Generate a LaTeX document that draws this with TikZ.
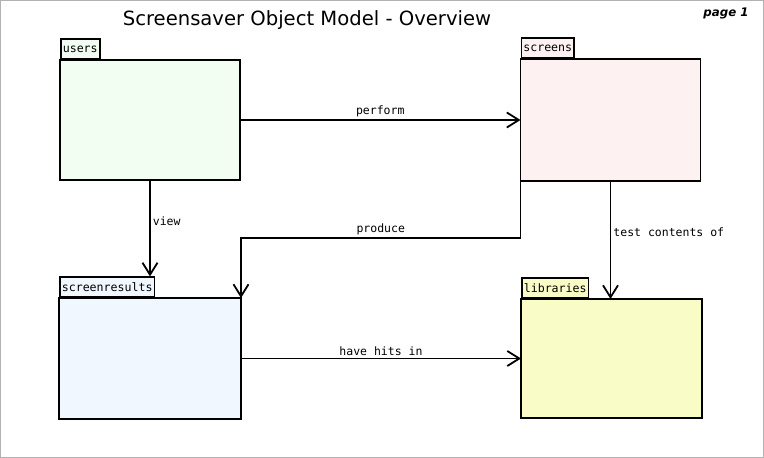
\documentclass[tikz,border=0pt]{standalone}
\usepackage{fontspec}
\setmainfont{DejaVu Sans}
\newfontfamily\monofont{DejaVu Sans Mono}
\usetikzlibrary{arrows.meta,positioning}
\definecolor{usersfill}{HTML}{F1FEF1}
\definecolor{screensfill}{HTML}{FDF1F1}
\definecolor{resultsfill}{HTML}{F0F7FF}
\definecolor{libfill}{HTML}{FAFCC8}
\begin{document}
\begin{tikzpicture}[x=1pt,y=-1pt,
  pkgbody/.style={draw,line width=1.8pt,minimum width=180pt,minimum height=120pt,inner sep=0pt,outer sep=0pt},
  pkgtab/.style={draw,line width=1.6pt,anchor=south west,minimum height=20pt,inner xsep=2pt,inner ysep=0pt,font=\monofont\fontsize{11.6}{12}\selectfont},
  conn/.style={line width=1.8pt,-{Straight Barb[length=12pt,width=15pt,line width=1.8pt]}},
  lbl/.style={font=\monofont\fontsize{11.5}{12}\selectfont,inner sep=2pt}]
  \useasboundingbox (0,0) rectangle (764,458);
  \draw[gray!60,line width=1pt] (0.5,0.5) rectangle (763.5,457.5);
  % title
  \node (title) at (307,20) {\fontsize{19.6}{22}\selectfont Screensaver Object Model - Overview};
  \node (page) at (726,13) {\fontsize{11.8}{13}\selectfont\bfseries\itshape page 1};
  % packages
  \node[pkgbody,fill=usersfill] (users) at (150,120) {};
  \node[pkgtab,fill=usersfill] (userstab) at (users.north west) {users};
  \node[pkgbody,fill=screensfill,minimum height=122pt] (screens) at (610.5,120) {};
  \node[pkgtab,fill=screensfill] (screenstab) at (screens.north west) {screens};
  \node[pkgbody,fill=resultsfill,minimum width=182pt,minimum height=121pt] (results) at (150,358.5) {};
  \node[pkgtab,fill=resultsfill] (resultstab) at (results.north west) {screenresults};
  \node[pkgbody,fill=libfill,minimum width=181pt,minimum height=119pt] (libs) at (611.5,358.5) {};
  \node[pkgtab,fill=libfill] (libstab) at (libs.north west) {libraries};
  % connectors
  \coordinate (bend) at (520,238);
  \draw[conn] (users.east) -- node[lbl,above] {perform} (screens.west);
  \draw[conn] (users.south) -- node[lbl,right,pos=0.43] {view} (users.south |- resultstab.north);
  \draw[conn] (screens.south west) -- (screens.south west |- bend) -| node[lbl,above,pos=0.25] {produce} (results.north east);
  \draw[conn] (screens.south) -- node[lbl,right,pos=0.43] {test contents of} (screens.south |- libs.north);
  \draw[conn] (results.east) -- node[lbl,above] {have hits in} (libs.west);
\end{tikzpicture}
\end{document}
